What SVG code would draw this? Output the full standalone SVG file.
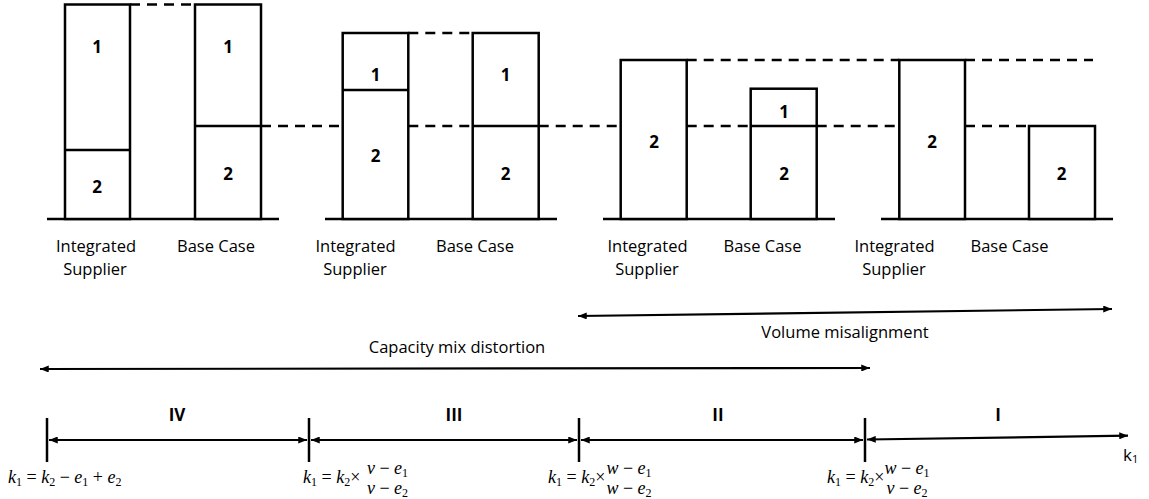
<svg xmlns="http://www.w3.org/2000/svg" width="1149" height="499" viewBox="0 0 1149 499">
<style>
.bar{fill:#fff;stroke:#000;stroke-width:2.5}
.ln{stroke:#000;stroke-width:2.5;fill:none}
.dash{stroke:#000;stroke-width:2.5;fill:none;stroke-dasharray:10 7}
.arr{stroke:#000;stroke-width:2.2;fill:none;marker-start:url(#ah);marker-end:url(#ah)}
.lbl{font-family:"Open Sans","Liberation Sans",sans-serif;font-size:16.5px;fill:#000;text-anchor:middle}
.num{font-family:"Open Sans","Liberation Sans",sans-serif;font-size:17px;font-weight:bold;fill:#000;text-anchor:middle}
.m{font-family:"Liberation Serif",serif;font-size:18px;font-style:italic;fill:#000}
.u{font-style:normal}
.s{font-size:12px;font-style:normal}
</style>
<defs>
<marker id="ah" viewBox="0 0 10 8" refX="10" refY="4" markerWidth="9" markerHeight="7" markerUnits="userSpaceOnUse" orient="auto-start-reverse">
<path d="M0,0 L10,4 L0,8 z" fill="#000"/>
</marker>
</defs>

<g id="scenario-IV">
<line class="ln" x1="47" y1="219" x2="279" y2="219"/>
<rect class="bar" x="65" y="4.5" width="65" height="214.5"/>
<line class="ln" x1="65" y1="150" x2="130" y2="150"/>
<rect class="bar" x="195" y="4.5" width="66" height="214.5"/>
<line class="ln" x1="195" y1="126" x2="261" y2="126"/>
<text class="num" x="97" y="52.5">1</text>
<text class="num" x="97" y="192.5">2</text>
<text class="num" x="228" y="52.5">1</text>
<text class="num" x="228" y="179.5">2</text>
<text class="lbl" x="96" y="252">Integrated</text>
<text class="lbl" x="95" y="275">Supplier</text>
<text class="lbl" x="216" y="252">Base Case</text>
</g>

<g id="scenario-III">
<line class="ln" x1="325" y1="219" x2="557" y2="219"/>
<rect class="bar" x="342.7" y="33" width="65.6" height="186"/>
<line class="ln" x1="342.7" y1="90" x2="408.3" y2="90"/>
<rect class="bar" x="472.7" y="33" width="66" height="186"/>
<line class="ln" x1="472.7" y1="126" x2="538.7" y2="126"/>
<text class="num" x="375.5" y="81">1</text>
<text class="num" x="375.5" y="162">2</text>
<text class="num" x="505.5" y="81">1</text>
<text class="num" x="505.5" y="179.5">2</text>
<text class="lbl" x="355.5" y="252">Integrated</text>
<text class="lbl" x="355" y="275">Supplier</text>
<text class="lbl" x="475" y="252">Base Case</text>
</g>

<g id="scenario-II">
<line class="ln" x1="603" y1="219" x2="835" y2="219"/>
<rect class="bar" x="620.7" y="60" width="66" height="159"/>
<rect class="bar" x="750.7" y="88.7" width="66" height="130.3"/>
<line class="ln" x1="750.7" y1="126" x2="816.7" y2="126"/>
<text class="num" x="654" y="147.5">2</text>
<text class="num" x="784" y="117.5">1</text>
<text class="num" x="784" y="179.5">2</text>
<text class="lbl" x="647.5" y="252">Integrated</text>
<text class="lbl" x="647" y="275">Supplier</text>
<text class="lbl" x="762.5" y="252">Base Case</text>
</g>

<g id="scenario-I">
<line class="ln" x1="881" y1="219" x2="1113" y2="219"/>
<rect class="bar" x="899.3" y="60" width="65.7" height="159"/>
<rect class="bar" x="1029" y="126" width="66" height="93"/>
<text class="num" x="932" y="147.5">2</text>
<text class="num" x="1061.5" y="179.5">2</text>
<text class="lbl" x="894.5" y="252">Integrated</text>
<text class="lbl" x="894" y="275">Supplier</text>
<text class="lbl" x="1009.5" y="252">Base Case</text>
</g>

<g id="connectors">
<line class="dash" x1="130" y1="4.5" x2="195" y2="4.5"/>
<line class="dash" x1="408.3" y1="33" x2="472.7" y2="33"/>
<line class="dash" x1="686.7" y1="60" x2="899.3" y2="60"/>
<line class="dash" x1="965" y1="60" x2="1093" y2="60"/>
<line class="dash" x1="261" y1="126" x2="342.7" y2="126"/>
<line class="dash" x1="408.3" y1="126" x2="472.7" y2="126"/>
<line class="dash" x1="538.7" y1="126" x2="620.7" y2="126"/>
<line class="dash" x1="686.7" y1="126" x2="750.7" y2="126"/>
<line class="dash" x1="816.7" y1="126" x2="899.3" y2="126"/>
<line class="dash" x1="965" y1="126" x2="1029" y2="126"/>

<line class="arr" x1="578" y1="316" x2="1112" y2="309"/>
<line class="arr" x1="40" y1="369" x2="870" y2="368"/>

<line class="ln" x1="47" y1="418" x2="47" y2="462"/>
<line class="ln" x1="309" y1="418" x2="309" y2="462"/>
<line class="ln" x1="579" y1="418" x2="579" y2="462"/>
<line class="ln" x1="865" y1="418" x2="865" y2="462"/>
<line class="arr" x1="49" y1="440" x2="307" y2="440"/>
<line class="arr" x1="311" y1="440" x2="577" y2="440"/>
<line class="arr" x1="581" y1="440" x2="863" y2="440"/>
<line class="arr" x1="867" y1="439.5" x2="1128" y2="435.7"/>
</g>

<g id="labels">
<text class="lbl" x="845" y="338">Volume misalignment</text>
<text class="lbl" x="457" y="353">Capacity mix distortion</text>
<text class="num" x="177" y="421">IV</text>
<text class="num" x="454" y="421">III</text>
<text class="num" x="718" y="421">II</text>
<text class="num" x="998" y="421">I</text>
<text x="1123" y="461" style="font-family:'Open Sans','Liberation Sans',sans-serif;font-size:17px;fill:#000">k<tspan font-size="11" dy="2">1</tspan></text>
</g>

<g id="formulas">
<text class="m" x="8" y="483">k<tspan class="s" dy="3">1</tspan><tspan class="u" dy="-3"> = </tspan>k<tspan class="s" dy="3">2</tspan><tspan class="u" dy="-3"> − </tspan>e<tspan class="s" dy="3">1</tspan><tspan class="u" dy="-3"> + </tspan>e<tspan class="s" dy="3">2</tspan></text>

<text class="m" x="303" y="483">k<tspan class="s" dy="3">1</tspan><tspan class="u" dy="-3"> = </tspan>k<tspan class="s" dy="3">2</tspan><tspan class="u" dy="-3">×</tspan></text>
<text class="m" x="387.5" y="474" text-anchor="middle">v<tspan class="u"> − </tspan>e<tspan class="s" dy="3">1</tspan></text>
<text class="m" x="387.5" y="494" text-anchor="middle">v<tspan class="u"> − </tspan>e<tspan class="s" dy="3">2</tspan></text>

<text class="m" x="548" y="483">k<tspan class="s" dy="3">1</tspan><tspan class="u" dy="-3"> = </tspan>k<tspan class="s" dy="3">2</tspan><tspan class="u" dy="-3">×</tspan></text>
<text class="m" x="629" y="474" text-anchor="middle">w<tspan class="u"> − </tspan>e<tspan class="s" dy="3">1</tspan></text>
<text class="m" x="629" y="494" text-anchor="middle">w<tspan class="u"> − </tspan>e<tspan class="s" dy="3">2</tspan></text>

<text class="m" x="827" y="483">k<tspan class="s" dy="3">1</tspan><tspan class="u" dy="-3"> = </tspan>k<tspan class="s" dy="3">2</tspan><tspan class="u" dy="-3">×</tspan></text>
<text class="m" x="907" y="474" text-anchor="middle">w<tspan class="u"> − </tspan>e<tspan class="s" dy="3">1</tspan></text>
<text class="m" x="907" y="494" text-anchor="middle">v<tspan class="u"> − </tspan>e<tspan class="s" dy="3">2</tspan></text>
</g>
</svg>
